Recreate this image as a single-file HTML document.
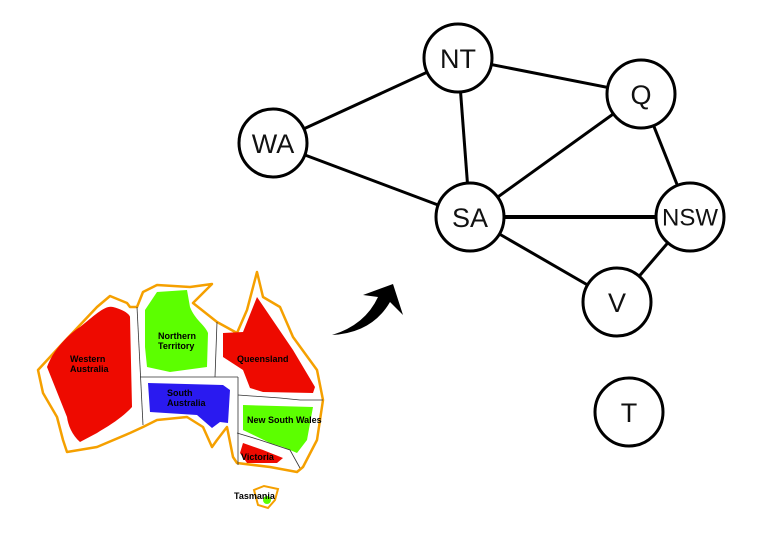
<!DOCTYPE html>
<html><head><meta charset="utf-8"><style>
html,body{margin:0;padding:0;background:#fff;width:763px;height:535px;overflow:hidden}
svg{display:block}
.n{fill:#fff;stroke:#000;stroke-width:3}
.t{font-family:"Liberation Sans",sans-serif;font-size:27px;text-anchor:middle;dominant-baseline:central;fill:#111}
.m{font-family:"Liberation Sans",sans-serif;font-size:9px;font-weight:bold;fill:#000}
</style></head><body>
<svg width="763" height="535" viewBox="0 0 763 535" xmlns="http://www.w3.org/2000/svg">
<!-- map -->
<path d="M38,370 L63,343 L97,307 L110,296 L127,303 L130,307 L137,307 L143,292 L157,285 L190,287 L212,284 L193,303 L217,322 L237,333 L247,310 L257,272 L263,297 L280,307 L293,337 L317,370 L323,400 L317,440 L303,467 L297,472 L270,467 L237,463 L233,457 L227,427 L217,440 L212,447 L203,427 L187,417 L157,420 L143,427 L130,433 L97,447 L67,452 L63,440 L57,417 L43,393 Z" fill="#fff" stroke="#f5a000" stroke-width="2.5" stroke-linejoin="round"/>
<path d="M47,367 C55,345 75,330 80,327 C95,315 105,305 113,307 C125,310 130,315 130,317 L132,407 C120,420 105,428 97,433 L80,442 C72,435 68,425 67,417 Z" fill="#ee0a00"/>
<path d="M145,310 L157,292 L187,290 L190,307 C195,320 205,325 208,333 L207,367 L170,372 L147,367 L145,347 Z" fill="#5cff00"/>
<path d="M148,383 L223,385 L230,390 L228,423 L220,422 L212,428 L197,415 L150,412 Z" fill="#2a1af0"/>
<path d="M223,333 L243,332 L257,297 L293,350 L315,387 L313,393 L263,392 L250,388 L243,370 L223,357 Z" fill="#ee0a00"/>
<path d="M243,405 L313,407 L307,440 L297,453 L283,447 L270,443 L243,430 Z" fill="#5cff00"/>
<path d="M243,443 L263,450 L283,458 L277,463 L247,463 L240,453 Z" fill="#ee0a00"/>
<path d="M254,490 L264,486 L278,489 L275,500 L268,508 L258,505 Z" fill="#fff" stroke="#f5a000" stroke-width="2"/>
<circle cx="267" cy="500" r="4" fill="#5cff00"/>
<g stroke="#333" stroke-width="0.8" fill="none">
<path d="M137,307 L143,425"/>
<path d="M140,377 L238,377"/>
<path d="M217,322 L215,377"/>
<path d="M238,377 L238,465"/>
<path d="M238,395 L280,398 L300,400 L323,400"/>
<path d="M237,433 L260,440 L290,450 L300,468"/>
</g>
<text class="m" x="70" y="362">Western</text>
<text class="m" x="70" y="372">Australia</text>
<text class="m" x="158" y="339">Northern</text>
<text class="m" x="158" y="349">Territory</text>
<text class="m" x="237" y="362">Queensland</text>
<text class="m" x="167" y="396">South</text>
<text class="m" x="167" y="406">Australia</text>
<text class="m" x="247" y="423">New South Wales</text>
<text class="m" x="241" y="460">Victoria</text>
<text class="m" x="234" y="499">Tasmania</text>
<!-- arrow -->
<path d="M332,335 Q372,333 390,302 L403,315 L393,284 L363,295 L378,297 Q365,325 332,335 Z" fill="#000"/>
<!-- edges -->
<g stroke="#000" stroke-width="3">
<line x1="273" y1="143" x2="458" y2="58"/>
<line x1="273" y1="143" x2="470" y2="217"/>
<line x1="458" y1="58" x2="641" y2="94"/>
<line x1="458" y1="58" x2="470" y2="217"/>
<line x1="641" y1="94" x2="470" y2="217"/>
<line x1="641" y1="94" x2="690" y2="217"/>
<line x1="470" y1="217" x2="690" y2="217" stroke-width="4"/>
<line x1="470" y1="217" x2="617" y2="302"/>
<line x1="690" y1="217" x2="617" y2="302"/>
</g>
<circle class="n" cx="458" cy="58" r="34"/><text class="t" x="458" y="59">NT</text>
<circle class="n" cx="641" cy="94" r="34"/><text class="t" x="641" y="95">Q</text>
<circle class="n" cx="273" cy="143" r="34"/><text class="t" x="273" y="144">WA</text>
<circle class="n" cx="470" cy="217" r="34"/><text class="t" x="470" y="218">SA</text>
<circle class="n" cx="690" cy="217" r="34"/><text class="t" x="690" y="218" style="font-size:24px">NSW</text>
<circle class="n" cx="617" cy="302" r="34"/><text class="t" x="617" y="303">V</text>
<circle class="n" cx="629" cy="412" r="34"/><text class="t" x="629" y="413">T</text>
</svg>
</body></html>
